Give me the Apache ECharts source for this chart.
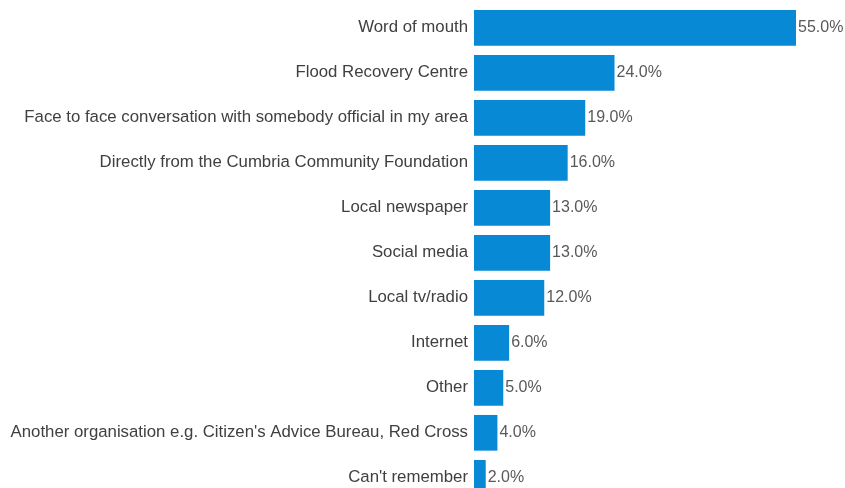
<!DOCTYPE html>
<html>
<head>
<meta charset="utf-8">
<style>
  html, body { margin: 0; padding: 0; background: #ffffff; }
  #chart { width: 845px; height: 488px; }
</style>
<script src="https://cdn.jsdelivr.net/npm/echarts@6/dist/echarts.min.js"></script>
</head>
<body>
<div id="chart"></div>
<script>
// Where respondents heard about the support (percent of respondents)
const categories = [
  "Word of mouth",
  "Flood Recovery Centre",
  "Face to face conversation with somebody official in my area",
  "Directly from the Cumbria Community Foundation",
  "Local newspaper",
  "Social media",
  "Local tv/radio",
  "Internet",
  "Other",
  "Another organisation e.g. Citizen's Advice Bureau, Red Cross",
  "Can't remember"
];
const percentages = [55, 24, 19, 16, 13, 13, 12, 6, 5, 4, 2];

const chart = echarts.init(document.getElementById('chart'), null, { renderer: 'canvas' });

chart.setOption({
  animation: false,
  backgroundColor: '#ffffff',
  // the plot runs past the lower edge of the canvas, so the last bar is cut off
  grid: {
    left: 474, right: 49, top: 5.3, height: 495,
    containLabel: false,
    outerBoundsMode: 'none'
  },
  xAxis: {
    type: 'value',
    min: 0,
    max: 55,
    show: false
  },
  yAxis: {
    type: 'category',
    data: categories,
    inverse: true,
    axisLine: { show: false },
    axisTick: { show: false },
    splitLine: { show: false },
    axisLabel: {
      margin: 6,
      color: '#404040',
      fontSize: 16.8,
      fontFamily: 'Liberation Sans, Arial, sans-serif'
    }
  },
  series: [{
    type: 'bar',
    data: percentages,
    barCategoryGap: '20.7%',
    itemStyle: { color: '#0789d6' },
    label: {
      show: true,
      position: 'right',
      distance: 2,
      color: '#595959',
      fontSize: 16,
      fontFamily: 'Liberation Sans, Arial, sans-serif',
      formatter: p => p.value.toFixed(1) + '%'
    }
  }]
});
</script>
</body>
</html>
